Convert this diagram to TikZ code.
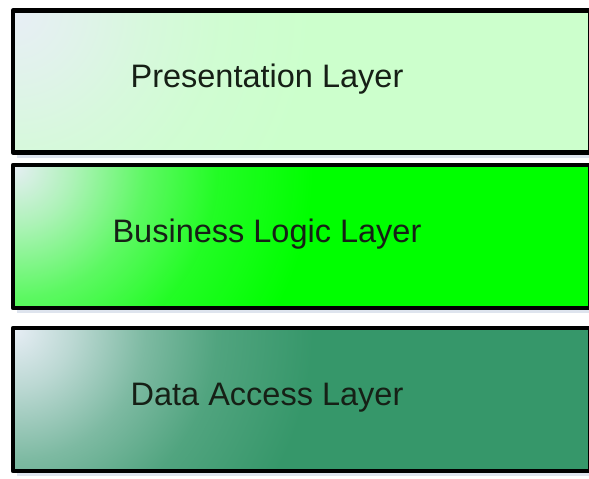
\documentclass[tikz,border=0pt]{standalone}
\usepackage{fontspec}
\setmainfont{Liberation Sans}
\definecolor{presgreen}{HTML}{CCFFCC}
\definecolor{logicgreen}{HTML}{00FF00}
\definecolor{datagreen}{HTML}{36976A}
\definecolor{glowwhite}{RGB}{232,238,246}
\definecolor{shadowblue}{RGB}{222,228,238}
\definecolor{layerink}{RGB}{22,32,22}
\colorlet{layercol}{presgreen}
\pgfdeclareradialshading[layercol]{layerglow}{\pgfpoint{0bp}{0bp}}{%
  color(0bp)=(glowwhite); color(5bp)=(glowwhite!75!layercol);
  color(11bp)=(glowwhite!40!layercol); color(17bp)=(glowwhite!15!layercol);
  color(25bp)=(layercol); color(50bp)=(layercol)}
\tikzset{layerline/.style = {draw=black, line width=4.5pt, line join=round},
         layertext/.style = {text=layerink, font=\fontsize{32.5}{38}\selectfont},
         layershadow/.style = {fill=shadowblue}}

\begin{document}
\begin{tikzpicture}[x=1pt, y=-1pt]
  \useasboundingbox [fill=white] (0, 0) rectangle (589, 479);
  \foreach \top/\bot/\col/\name/\txt in {10.5/152.5/presgreen/pres/Presentation Layer,
                                         165/308/logicgreen/logic/Business Logic Layer,
                                         328/471/datagreen/data/Data Access Layer}{
    \fill [layershadow] (17, \top+6) rectangle (589, \bot+5);
    \colorlet{layercol}{\col}
    \begin{scope}
      \clip (13, \top) rectangle (590, \bot);
      \fill [\col] (13, \top) rectangle (590, \bot);
      \shade [shading=layerglow] (13, \top) circle (300);
    \end{scope}
    \draw [layerline] (13, \top) rectangle (590, \bot);
    \node [layertext] (\name) at (267, {(\top+\bot)/2-2}) {\txt};
  }
\end{tikzpicture}
\end{document}
